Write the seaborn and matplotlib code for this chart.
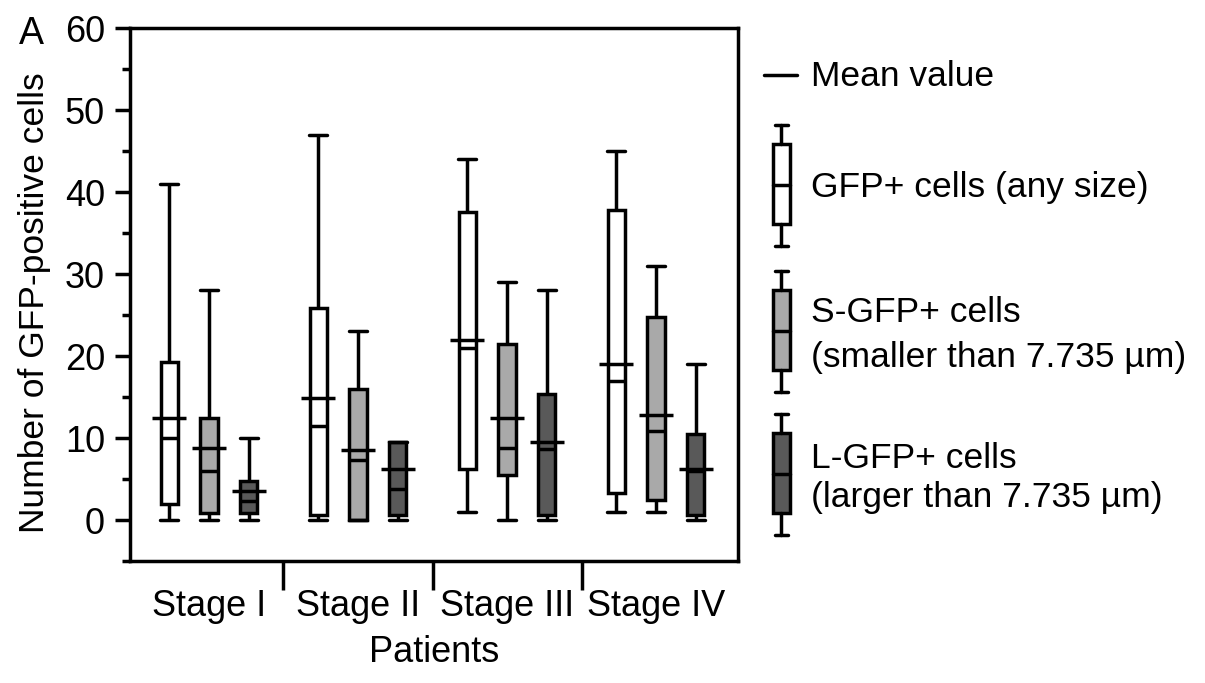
import itertools

import matplotlib.pyplot as plt
import pandas as pd
import seaborn as sns
from matplotlib.patches import Rectangle

stages = ['Stage I', 'Stage II', 'Stage III', 'Stage IV']
groups = ['GFP+', 'S-GFP+', 'L-GFP+']
box_colors = ['white', '#a9a9a9', '#595959']

# five-number summaries + means (stage-major, then group)
mins = [0, 0, 0, 0, 0, 0, 1, 0, 0, 1, 1, 0]
q1s = [2, 0.8, 0.8, 0.6, 0, 0.6, 6.2, 5.5, 0.6, 3.3, 2.4, 0.6]
medians = [10, 6, 2.3, 11.5, 7.3, 3.8, 21, 8.8, 8.7, 17, 10.8, 6]
q3s = [19.3, 12.5, 4.8, 25.8, 16, 9.5, 37.5, 21.5, 15.4, 37.8, 24.8, 10.5]
maxs = [41, 28, 10, 47, 23, 9.5, 44, 29, 28, 45, 31, 19]
means = [12.5, 8.8, 3.5, 14.9, 8.5, 6.2, 22, 12.4, 9.5, 19, 12.8, 6.2]

# long table: the five summary values per box give exactly these quartiles
rows = []
mean_rows = []
for k, (st, gr) in enumerate(itertools.product(stages, groups)):
    for v in (mins[k], q1s[k], medians[k], q3s[k], maxs[k]):
        rows.append({'stage': st, 'group': gr, 'value': v})
    mean_rows.append({'stage': st, 'group': gr, 'mean': means[k]})
df = pd.DataFrame(rows)
df_mean = pd.DataFrame(mean_rows)

sns.set_style('ticks')
plt.rcParams['font.family'] = ['Liberation Sans', 'DejaVu Sans']
plt.rcParams.update({'text.color': 'black', 'axes.labelcolor': 'black',
                     'xtick.color': 'black', 'ytick.color': 'black',
                     'axes.edgecolor': 'black'})

fig = plt.figure(figsize=(12.05, 6.83), dpi=100)
ax = fig.add_axes([130 / 1205, 1 - 561 / 683, 608 / 1205, 533 / 683])

lw = 2.5
sns.boxplot(data=df, x='stage', y='value', hue='group', order=stages,
            hue_order=groups, palette=box_colors, saturation=1,
            whis=(0, 100), width=0.8, gap=0.57, linewidth=lw,
            linecolor='black', legend=False, ax=ax, capwidths=0.12)
sns.stripplot(data=df_mean, x='stage', y='mean', hue='group', order=stages,
              hue_order=groups, palette=['black'] * 3, dodge=True,
              jitter=False, marker='_', size=24, linewidth=lw,
              legend=False, ax=ax, zorder=5)

ax.set_ylim(-5, 60)
ax.set_yticks(range(0, 61, 10))
ax.set_yticks(range(-5, 60, 10), minor=True)
ax.set_xlim(-0.53, 3.55)
ax.set_xticks(range(4), stages)
ax.set_xticks([0.5, 1.5, 2.5], minor=True)
ax.tick_params(axis='y', which='major', length=11, width=lw, labelsize=26, pad=7)
ax.tick_params(axis='y', which='minor', length=6, width=lw)
ax.tick_params(axis='x', which='major', length=0, labelsize=26, pad=20)
ax.tick_params(axis='x', which='minor', length=21, width=lw)
for sp in ax.spines.values():
    sp.set_visible(True)
    sp.set_linewidth(lw)
ax.set_xlabel('Patients', fontsize=26, labelpad=8)
ax.set_ylabel('Number of GFP-positive cells', fontsize=25.5, labelpad=10, y=0.484)

fig.text(19 / 1205, 1 - 34 / 683, 'A', fontsize=27, va='center', ha='left')

# hand-made legend on the right, in pixel coordinates
leg = fig.add_axes([0, 0, 1, 1], facecolor='none')
leg.set_xlim(0, 1205)
leg.set_ylim(683, 0)
leg.axis('off')

leg.plot([764, 797], [75, 75], color='black', lw=lw)
leg.text(811, 77, 'Mean value', fontsize=25.5, va='center')


def legend_glyph(yc, color):
    xc = 781
    cap_top, box_top, med, box_bot, cap_bot = yc - 60, yc - 41, yc, yc + 39, yc + 61
    leg.add_patch(Rectangle((xc - 8.5, box_top), 17, box_bot - box_top,
                            facecolor=color, edgecolor='black', lw=lw))
    leg.plot([xc, xc], [cap_top, box_top], color='black', lw=lw)
    leg.plot([xc, xc], [box_bot, cap_bot], color='black', lw=lw)
    for y in (cap_top, cap_bot):
        leg.plot([xc - 6.5, xc + 6.5], [y, y], color='black', lw=lw)
    leg.plot([xc - 8.5, xc + 8.5], [med, med], color='black', lw=lw)


legend_glyph(185, box_colors[0])
legend_glyph(331, box_colors[1])
legend_glyph(474, box_colors[2])

leg.text(811, 188, 'GFP+ cells (any size)', fontsize=25.5, va='center')
leg.text(811, 313, 'S-GFP+ cells', fontsize=25.5, va='center')
leg.text(811, 357, '(smaller than 7.735 µm)', fontsize=25.5, va='center')
leg.text(811, 458, 'L-GFP+ cells', fontsize=25.5, va='center')
leg.text(811, 498, '(larger than 7.735 µm)', fontsize=25.5, va='center')

fig.savefig('out.png', dpi=100)
